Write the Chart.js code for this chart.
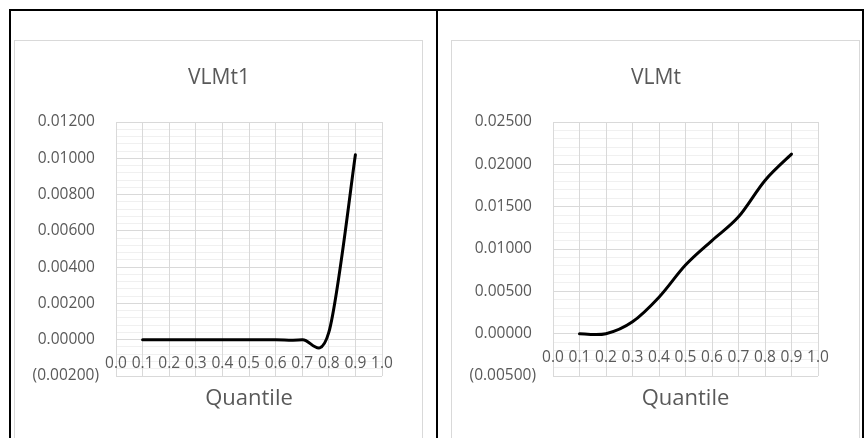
<!DOCTYPE html>
<html>
<head>
<meta charset="utf-8">
<script src="https://cdn.jsdelivr.net/npm/chart.js"></script>
<style>
  body { margin: 0; background: #fff; }
  .line { position: absolute; background: #000; }
  .box { position: absolute; border: 1px solid #d9d9d9; box-sizing: border-box; width: 409px; height: 400px; }
  canvas { position: absolute; left: 0; top: 0; }
</style>
</head>
<body>
<!-- bordes de la tabla -->
<div class="line" style="left:9px; top:9px; width:855px; height:2px;"></div>
<div class="line" style="left:9px; top:9px; width:2px; height:429px;"></div>
<div class="line" style="left:436px; top:9px; width:2px; height:429px;"></div>
<div class="line" style="left:862px; top:9px; width:2px; height:429px;"></div>

<div class="box" style="left:14px; top:40px;"><canvas id="chartVLMt1" width="408" height="397"></canvas></div>
<div class="box" style="left:451px; top:40px;"><canvas id="chartVLMt" width="408" height="397"></canvas></div>

<script>
// Datos
var quantiles = [0.1, 0.2, 0.3, 0.4, 0.5, 0.6, 0.7, 0.8, 0.9];
var vlmt1 = [0, 0, 0, 0, 0, 0, 0, 0.0004, 0.0102];
var vlmt = [0, 0, 0.0014, 0.0043, 0.0081, 0.0110, 0.0138, 0.0181, 0.0212];

var xTicks = { min: 0, max: 1, step: 0.1 };
var yTicksVLMt1 = { min: -0.002, max: 0.012, step: 0.002, minor: 0.0004 };
var yTicksVLMt = { min: -0.005, max: 0.025, step: 0.005, minor: 0.001 };

var textColor = "#595959";
var fontFamily = "'Open Sans', sans-serif";

// Suavizado tipo Excel (Catmull-Rom) sobre los puntos que ya calculó Chart.js
var excelSmooth = {
    id: "excelSmooth",
    beforeDatasetsDraw: function(chart) {
        chart.data.datasets.forEach(function(ds, i) {
            var meta = chart.getDatasetMeta(i);
            var pts = meta.data;
            for (var k = 0; k < pts.length; k++) {
                var p0 = pts[Math.max(k - 1, 0)];
                var p1 = pts[k];
                var p2 = pts[Math.min(k + 1, pts.length - 1)];
                var dx = (p2.x - p0.x) / 6;
                var dy = (p2.y - p0.y) / 6;
                p1.cp1x = p1.x - dx; p1.cp1y = p1.y - dy;
                p1.cp2x = p1.x + dx; p1.cp2y = p1.y + dy;
            }
            meta.dataset._pointsUpdated = true;
        });
    }
};

function yLabel(v) {
    if (Math.abs(v) < 1e-12) v = 0;
    if (v < 0) return "(" + Math.abs(v).toFixed(5) + ")";
    return v.toFixed(5) + " ";
}

// rw: espacio a la derecha del area de trazado (eje de lineas menores)
function makeChart(canvas, title, values, yt, rw) {
    var points = [];
    for (var i = 0; i < quantiles.length; i++) {
        points.push({ x: quantiles[i], y: values[i] });
    }
    return new Chart(canvas, {
        type: "line",
        data: {
            datasets: [{
                label: title,
                data: points,
                borderColor: "#000",
                borderWidth: 3,
                borderCapStyle: "round",
                pointRadius: 0,
                tension: 0.4,
                fill: false
            }]
        },
        plugins: [excelSmooth],
        options: {
            responsive: false,
            animation: false,
            layout: { padding: 0 },
            plugins: {
                legend: { display: false },
                tooltip: { enabled: false },
                title: {
                    display: true,
                    text: title,
                    color: textColor,
                    font: { family: fontFamily, size: 21, weight: "normal" },
                    padding: { top: 24.4, bottom: 31.4 }
                },
                subtitle: {
                    display: true,
                    text: "Quantile",
                    position: "bottom",
                    fullSize: false,
                    color: textColor,
                    font: { family: fontFamily, size: 22, weight: "normal" },
                    padding: { top: 9.8, bottom: 25.8 }
                }
            },
            scales: {
                yMinor: {
                    type: "linear",
                    position: "right",
                    min: yt.min,
                    max: yt.max,
                    ticks: { display: false, stepSize: yt.minor },
                    grid: {
                        drawTicks: false,
                        color: function(ctx) {
                            var r = ctx.tick.value / yt.step;
                            return Math.abs(r - Math.round(r)) < 1e-6 ? "rgba(0,0,0,0)" : "#f0f0f0";
                        }
                    },
                    border: { display: false },
                    afterFit: function(s) { s.width = rw; }
                },
                y: {
                    type: "linear",
                    position: "left",
                    min: yt.min,
                    max: yt.max,
                    ticks: {
                        stepSize: yt.step,
                        color: textColor,
                        padding: 17,
                        font: { family: fontFamily, size: 15.5 },
                        callback: yLabel
                    },
                    grid: { drawTicks: false, color: "#d9d9d9" },
                    border: { color: "#d9d9d9" },
                    afterFit: function(s) { s.width = 101; }
                },
                x: {
                    type: "linear",
                    position: { y: 0 },
                    min: xTicks.min,
                    max: xTicks.max,
                    ticks: {
                        stepSize: xTicks.step,
                        autoSkip: false,
                        maxRotation: 0,
                        color: textColor,
                        padding: 15,
                        font: { family: fontFamily, size: 15.5 },
                        callback: function(v) { return v.toFixed(1); }
                    },
                    grid: { drawTicks: false, color: "#d9d9d9" },
                    border: { color: "#d9d9d9" }
                }
            }
        }
    });
}

makeChart(document.getElementById("chartVLMt1"), "VLMt1", vlmt1, yTicksVLMt1, 41);
makeChart(document.getElementById("chartVLMt"), "VLMt", vlmt, yTicksVLMt, 42);
</script>
</body>
</html>
